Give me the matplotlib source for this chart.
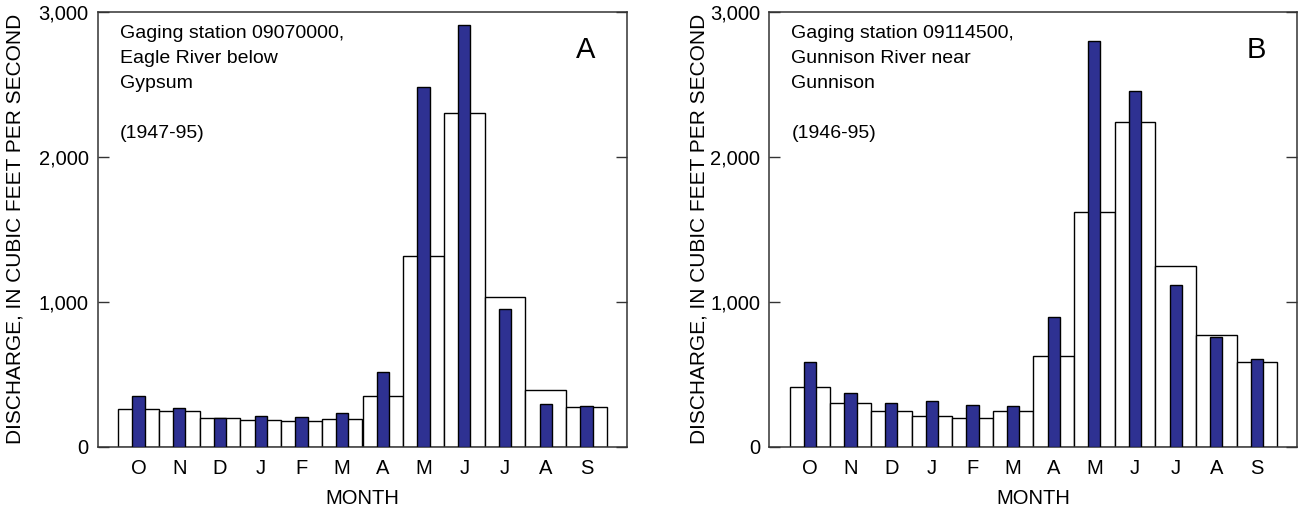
import matplotlib
matplotlib.use("Agg")
import matplotlib.pyplot as plt
import numpy as np

plt.rcParams['font.family'] = ['Liberation Sans', 'DejaVu Sans']

### monthly discharge, water year order (Oct - Sep)
months = ['O', 'N', 'D', 'J', 'F', 'M', 'A', 'M', 'J', 'J', 'A', 'S']

# open bars and dark bars
eagle_open = [262, 244, 200, 184, 175, 191, 352, 1315, 2299, 1032, 388, 271]
eagle_dark = [352, 267, 195, 211, 202, 232, 513, 2481, 2905, 949, 294, 280]

gunnison_open = [409, 301, 244, 214, 200, 248, 623, 1616, 2238, 1244, 770, 586]
gunnison_dark = [582, 368, 299, 313, 287, 278, 892, 2801, 2451, 1115, 754, 602]

eagle_text = ['Gaging station 09070000,', 'Eagle River below', 'Gypsum', '', '(1947-95)']
gunnison_text = ['Gaging station 09114500,', 'Gunnison River near', 'Gunnison', '', '(1946-95)']

yticks = [0, 1000, 2000, 3000]
yticklabels = ['0', '1,000', '2,000', '3,000']

W, H = 1298, 509
dark = '#2e3192'
spine_col = '#333333'


def panel(ax, open_vals, dark_vals, lines, letter, ylab_x):
    x = np.arange(len(months))
    ax.bar(x, open_vals, width=1.0, color='white', edgecolor='black', linewidth=1.0, zorder=2)
    ax.bar(x, dark_vals, width=0.3, color=dark, edgecolor='black', linewidth=1.0, zorder=3)

    ax.set_xlim(-1, 12)
    ax.set_ylim(0, 3000)
    ax.set_xticks(x)
    ax.set_xticklabels(months, fontsize=14.5)
    ax.set_yticks(yticks)
    ax.set_yticklabels(yticklabels, fontsize=14.5)

    # inward ticks: big ones on the y axis both sides, tiny ones along the top
    ax.tick_params(axis='y', direction='in', length=8, width=1.0, color=spine_col,
                   left=True, right=True, pad=6.5)
    ax.tick_params(axis='x', which='major', bottom=False, top=False, pad=5)
    ax.set_xticks(x, minor=True)
    ax.tick_params(axis='x', which='minor', direction='in', length=2, width=0.8,
                   color=spine_col, top=True, bottom=False)

    for s in ax.spines.values():
        s.set_color(spine_col)
        s.set_linewidth(1.1)

    ax.set_xlabel('MONTH', fontsize=14.5, labelpad=8)
    ax.set_ylabel('DISCHARGE, IN CUBIC FEET PER SECOND', fontsize=15)
    ax.yaxis.label.set_va('center')
    ax.yaxis.set_label_coords(ylab_x, 0.5)

    for i, t in enumerate(lines):
        ax.text(0.042, 0.951 - i * 0.0575, t, transform=ax.transAxes,
                ha='left', va='center', fontsize=14)
    ax.text(0.922, 0.913, letter, transform=ax.transAxes,
            ha='center', va='center', fontsize=21)


fig = plt.figure(figsize=(W / 100, H / 100), dpi=100)

bottom = (H - 446.7) / H
height = 435 / H
axA = fig.add_axes([97.7 / W, bottom, 529.6 / W, height])
axB = fig.add_axes([769.3 / W, bottom, 528.2 / W, height])

panel(axA, eagle_open, eagle_dark, eagle_text, 'A', (15 - 97.7) / 529.6)
panel(axB, gunnison_open, gunnison_dark, gunnison_text, 'B', (699 - 769.3) / 528.2)

plt.savefig('out.png', dpi=100)
